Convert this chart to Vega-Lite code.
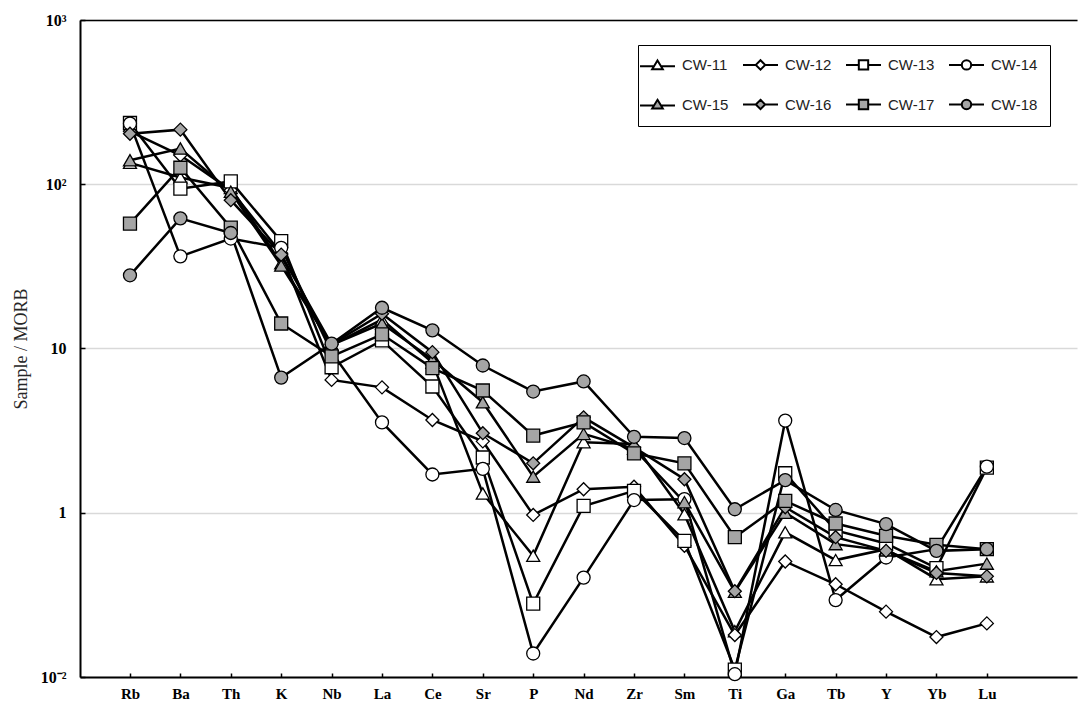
{
  "$schema": "https://vega.github.io/schema/vega-lite/v6.json",
  "usermeta": {"embedOptions": {"actions": false}},
  "autosize": {"type": "none"},
  "padding": {"left": 80, "top": 20, "right": 2, "bottom": 28},
  "width": 997,
  "height": 657,
  "background": "white",
  "config": {
    "view": {"stroke": null},
    "axis": {
      "domainColor": "black",
      "domainWidth": 2,
      "tickColor": "black",
      "tickWidth": 1.5,
      "labelColor": "black",
      "labelFont": "Liberation Serif",
      "labelFontWeight": "bold"
    }
  },
  "data": {
    "values": [
      {"el": "Rb", "CW-11": 135, "CW-12": 210, "CW-13": 236, "CW-14": 234, "CW-15": 140, "CW-16": 203, "CW-17": 57.6, "CW-18": 27.9},
      {"el": "Ba", "CW-11": 110, "CW-12": 150, "CW-13": 94, "CW-14": 36.4, "CW-15": 165, "CW-16": 215, "CW-17": 126, "CW-18": 62},
      {"el": "Th", "CW-11": 95, "CW-12": 92, "CW-13": 104, "CW-14": 46.7, "CW-15": 90, "CW-16": 80, "CW-17": 54.4, "CW-18": 50.5},
      {"el": "K", "CW-11": 33, "CW-12": 38, "CW-13": 45, "CW-14": 41, "CW-15": 32, "CW-16": 37.3, "CW-17": 14.2, "CW-18": 6.65},
      {"el": "Nb", "CW-11": 10.5, "CW-12": 6.44, "CW-13": 7.69, "CW-14": 9.5, "CW-15": 10.5, "CW-16": 10.6, "CW-17": 8.95, "CW-18": 10.7},
      {"el": "La", "CW-11": 15, "CW-12": 5.8, "CW-13": 11.2, "CW-14": 3.55, "CW-15": 14.2, "CW-16": 16.3, "CW-17": 12.2, "CW-18": 17.7},
      {"el": "Ce", "CW-11": 8.2, "CW-12": 3.67, "CW-13": 5.87, "CW-14": 1.71, "CW-15": 8.56, "CW-16": 9.5, "CW-17": 7.6, "CW-18": 12.9},
      {"el": "Sr", "CW-11": 1.31, "CW-12": 2.72, "CW-13": 2.17, "CW-14": 1.85, "CW-15": 4.71, "CW-16": 3.05, "CW-17": 5.55, "CW-18": 7.88},
      {"el": "P", "CW-11": 0.547, "CW-12": 0.97, "CW-13": 0.28, "CW-14": 0.139, "CW-15": 1.66, "CW-16": 2.0, "CW-17": 2.95, "CW-18": 5.47},
      {"el": "Nd", "CW-11": 2.69, "CW-12": 1.39, "CW-13": 1.1, "CW-14": 0.403, "CW-15": 3.02, "CW-16": 3.81, "CW-17": 3.55, "CW-18": 6.3},
      {"el": "Zr", "CW-11": 2.62, "CW-12": 1.44, "CW-13": 1.36, "CW-14": 1.195, "CW-15": 2.45, "CW-16": 2.5, "CW-17": 2.3, "CW-18": 2.9},
      {"el": "Sm", "CW-11": 0.98, "CW-12": 0.63, "CW-13": 0.675, "CW-14": 1.21, "CW-15": 1.16, "CW-16": 1.6, "CW-17": 2.0, "CW-18": 2.85},
      {"el": "Ti", "CW-11": 0.19, "CW-12": 0.18, "CW-13": 0.111, "CW-14": 0.104, "CW-15": 0.33, "CW-16": 0.333, "CW-17": 0.71, "CW-18": 1.05},
      {"el": "Ga", "CW-11": 0.76, "CW-12": 0.505, "CW-13": 1.74, "CW-14": 3.64, "CW-15": 1.0, "CW-16": 1.08, "CW-17": 1.18, "CW-18": 1.58},
      {"el": "Tb", "CW-11": 0.515, "CW-12": 0.367, "CW-13": 0.78, "CW-14": 0.294, "CW-15": 0.644, "CW-16": 0.71, "CW-17": 0.86, "CW-18": 1.04},
      {"el": "Y", "CW-11": 0.6, "CW-12": 0.25, "CW-13": 0.65, "CW-14": 0.534, "CW-15": 0.59, "CW-16": 0.586, "CW-17": 0.724, "CW-18": 0.853},
      {"el": "Yb", "CW-11": 0.394, "CW-12": 0.175, "CW-13": 0.46, "CW-14": 0.6, "CW-15": 0.44, "CW-16": 0.43, "CW-17": 0.638, "CW-18": 0.586},
      {"el": "Lu", "CW-11": 0.41, "CW-12": 0.212, "CW-13": 1.88, "CW-14": 1.91, "CW-15": 0.49, "CW-16": 0.41, "CW-17": 0.6, "CW-18": 0.6}
    ]
  },
  "transform": [
    {"fold": ["CW-11", "CW-12", "CW-13", "CW-14", "CW-15", "CW-16", "CW-17", "CW-18"], "as": ["s", "v"]}
  ],
  "encoding": {
    "x": {
      "field": "el",
      "type": "ordinal",
      "sort": null,
      "scale": {
        "type": "point",
        "domain": ["Rb", "Ba", "Th", "K", "Nb", "La", "Ce", "Sr", "P", "Nd", "Zr", "Sm", "Ti", "Ga", "Tb", "Y", "Yb", "Lu", " "],
        "padding": 0.89,
        "align": 0.557
      },
      "axis": {
        "values": ["Rb", "Ba", "Th", "K", "Nb", "La", "Ce", "Sr", "P", "Nd", "Zr", "Sm", "Ti", "Ga", "Tb", "Y", "Yb", "Lu"],
        "title": null,
        "labelAngle": 0,
        "labelFontSize": 15,
        "tickSize": -4,
        "labelPadding": 13,
        "grid": false
      }
    },
    "y": {
      "field": "v",
      "type": "quantitative",
      "scale": {"type": "log", "domain": [0.1, 1000], "nice": false},
      "axis": {
        "values": [0.1, 1, 10, 100, 1000],
        "labelExpr": "datum.value >= 999 ? '10³' : datum.value >= 99 ? '10²' : datum.value >= 9 ? '10' : datum.value >= 0.9 ? '1' : '10⁻²'",
        "labelFontSize": 16,
        "tickSize": -5,
        "labelPadding": 19,
        "grid": true,
        "gridColor": "#d9d9d9",
        "gridWidth": 1.5,
        "title": "Sample / MORB",
        "titleFont": "Liberation Serif",
        "titleFontWeight": "normal",
        "titleFontSize": 18,
        "titleColor": "#262626",
        "titlePadding": 10
      }
    }
  },
  "layer": [
    {
      "mark": {"type": "line", "stroke": "black", "strokeWidth": 2.5},
      "encoding": {"detail": {"field": "s"}}
    },
    {
      "mark": {"type": "point", "filled": true, "opacity": 1, "stroke": "black", "strokeWidth": 1.3, "size": 169},
      "encoding": {
        "x": {
          "field": "el",
          "type": "ordinal",
          "sort": null,
          "axis": {"orient": "top", "labels": false, "ticks": false, "grid": false, "title": null, "domainWidth": 1.5}
        },
        "shape": {
          "field": "s",
          "type": "nominal",
          "scale": {
            "domain": ["CW-11", "CW-12", "CW-13", "CW-14", "CW-15", "CW-16", "CW-17", "CW-18"],
            "range": ["triangle-up", "diamond", "square", "circle", "triangle-up", "diamond", "square", "circle"]
          },
          "legend": null
        },
        "fill": {
          "field": "s",
          "type": "nominal",
          "scale": {
            "domain": ["CW-11", "CW-12", "CW-13", "CW-14", "CW-15", "CW-16", "CW-17", "CW-18"],
            "range": ["white", "white", "white", "white", "#a5a5a5", "#a5a5a5", "#a5a5a5", "#a5a5a5"]
          },
          "legend": null
        }
      }
    },
    {
      "transform": [{"filter": "datum.v < 0"}],
      "mark": {"type": "point", "filled": true, "opacity": 1, "stroke": "black", "strokeWidth": 2},
      "encoding": {
        "x": {"field": "el", "type": "ordinal", "sort": null, "axis": null},
        "shape": {
          "field": "s",
          "type": "nominal",
          "scale": {
            "domain": ["CW-11", "CW-12", "CW-13", "CW-14", "CW-15", "CW-16", "CW-17", "CW-18"],
            "range": [
              "M-2.8,0.15H-0.5M0.5,0.15H2.8M0,-0.75L0.85,0.65H-0.85Z",
              "M-2.8,0H-0.75M0.75,0H2.8M0,-0.75L0.75,0L0,0.75L-0.75,0Z",
              "M-2.8,0H-0.75M0.75,0H2.8M-0.75,-0.75H0.75V0.75H-0.75Z",
              "M-2.8,0H-0.75M0.75,0H2.8M-0.75,0A0.75,0.75 0 1,0 0.75,0A0.75,0.75 0 1,0 -0.75,0Z",
              "M-2.8,0.15H-0.5M0.5,0.15H2.8M0,-0.75L0.85,0.65H-0.85Z",
              "M-2.8,0H-0.75M0.75,0H2.8M0,-0.75L0.75,0L0,0.75L-0.75,0Z",
              "M-2.8,0H-0.75M0.75,0H2.8M-0.75,-0.75H0.75V0.75H-0.75Z",
              "M-2.8,0H-0.75M0.75,0H2.8M-0.75,0A0.75,0.75 0 1,0 0.75,0A0.75,0.75 0 1,0 -0.75,0Z"
            ]
          },
          "legend": {
            "title": null,
            "orient": "none",
            "legendX": 558,
            "legendY": 25,
            "direction": "horizontal",
            "columns": 4,
            "symbolSize": 156,
            "symbolStrokeWidth": 2,
            "labelFont": "Liberation Sans",
            "labelFontSize": 15,
            "labelColor": "#222222",
            "labelOffset": 17,
            "columnPadding": 10,
            "rowPadding": 21,
            "padding": 12,
            "strokeColor": "black",
            "fillColor": "white"
          }
        },
        "fill": {
          "field": "s",
          "type": "nominal",
          "scale": {
            "domain": ["CW-11", "CW-12", "CW-13", "CW-14", "CW-15", "CW-16", "CW-17", "CW-18"],
            "range": ["white", "white", "white", "white", "#a5a5a5", "#a5a5a5", "#a5a5a5", "#a5a5a5"]
          },
          "legend": {
            "title": null,
            "orient": "none",
            "legendX": 558,
            "legendY": 25,
            "direction": "horizontal",
            "columns": 4,
            "symbolSize": 156,
            "symbolStrokeWidth": 2,
            "labelFont": "Liberation Sans",
            "labelFontSize": 15,
            "labelColor": "#222222",
            "labelOffset": 17,
            "columnPadding": 10,
            "rowPadding": 21,
            "padding": 12,
            "strokeColor": "black",
            "fillColor": "white"
          }
        }
      }
    }
  ],
  "resolve": {
    "scale": {"shape": "independent", "fill": "independent"},
    "axis": {"x": "independent"}
  }
}
